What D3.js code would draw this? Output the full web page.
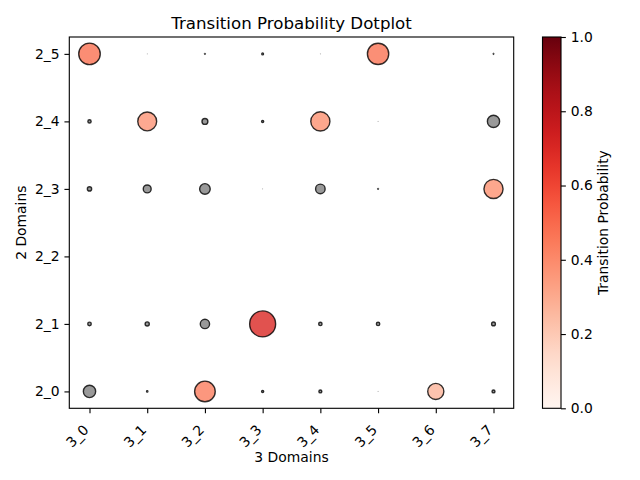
<!DOCTYPE html>
<html>
<head>
<meta charset="utf-8">
<script src="https://cdn.jsdelivr.net/npm/d3@7"></script>
<style>
  body { margin: 0; background: #fff; }
  text { font-family: "DejaVu Sans", sans-serif; fill: #000; }
</style>
</head>
<body>
<div id="chart"></div>
<script>
// categories
var xCats = ["3_0", "3_1", "3_2", "3_3", "3_4", "3_5", "3_6", "3_7"];
var yCats = ["2_0", "2_1", "2_2", "2_3", "2_4", "2_5"];

// transition probabilities, one array per row (2_x), columns are 3_0..3_7
var row2_0 = [0.157, 0.003, 0.44, 0.005, 0.009, 0.0005, 0.27, 0.009];
var row2_1 = [0.013, 0.018, 0.09, 0.70, 0.012, 0.012, null, 0.015];
var row2_2 = [null, null, null, null, null, null, null, null];
var row2_3 = [0.019, 0.065, 0.117, 0.0005, 0.095, 0.002, null, 0.38];
var row2_4 = [0.011, 0.37, 0.036, 0.005, 0.38, 0.0005, null, 0.155];
var row2_5 = [0.48, 0.0005, 0.002, 0.004, 0.0005, 0.47, null, 0.002];
var rows = [row2_0, row2_1, row2_2, row2_3, row2_4, row2_5];

var cbarTicks = [0, 0.2, 0.4, 0.6, 0.8, 1.0];
var threshold = 0.2;   // below this the dot is drawn grey

var W = 640, H = 480;
var pt = 100 / 72;
var m = {left: 69.3, right: 513.7, top: 37, bottom: 408.3};

var svg = d3.select("#chart")
	.append("svg")
	.attr("width", W)
	.attr("height", H);

var x = d3.scaleLinear().domain([-0.35, 7.35]).range([m.left, m.right]);
var y = d3.scaleLinear().domain([-0.25, 5.25]).range([m.bottom, m.top]);
var color = d3.scaleSequential(d3.interpolateReds).domain([0, 1]);
function radius(p) { return Math.sqrt(500 * p) / 2 * pt; }

var points = [];
rows.forEach(function(r, j) {
	r.forEach(function(v, i) {
		if (v !== null) points.push({xi: i, yi: j, p: v});
	});
});

// dots
svg.append("g")
	.selectAll("circle")
	.data(points)
	.join("circle")
	.attr("cx", function(d) { return x(d.xi); })
	.attr("cy", function(d) { return y(d.yi); })
	.attr("r", function(d) { return radius(d.p); })
	.attr("fill", function(d) { return d.p >= threshold ? color(d.p) : "gray"; })
	.attr("fill-opacity", 0.8)
	.attr("stroke", "#000")
	.attr("stroke-opacity", function(d) { return d.p < 0.001 ? 0.25 : 0.8; })
	.attr("stroke-width", function(d) { return Math.min(pt, radius(d.p) * 1.2); });

// frame
svg.append("rect")
	.attr("x", m.left).attr("y", m.top)
	.attr("width", m.right - m.left).attr("height", m.bottom - m.top)
	.attr("fill", "none").attr("stroke", "#000").attr("stroke-width", 0.8 * pt);

// x axis
var xAxis = d3.axisBottom(x)
	.tickValues(d3.range(xCats.length))
	.tickFormat(function(i) { return xCats[i]; })
	.tickSize(3.5 * pt).tickSizeOuter(0);
var gx = svg.append("g")
	.attr("transform", "translate(0," + m.bottom + ")")
	.call(xAxis);
gx.select(".domain").remove();
gx.selectAll(".tick line").attr("stroke", "#000").attr("stroke-width", 0.8 * pt);
gx.selectAll(".tick text")
	.attr("font-size", 10 * pt)
	.attr("text-anchor", "end")
	.attr("y", 0).attr("dy", "0.35em")
	.attr("transform", "translate(-4,19) rotate(-45)");

// y axis
var yAxis = d3.axisLeft(y)
	.tickValues(d3.range(yCats.length))
	.tickFormat(function(i) { return yCats[i]; })
	.tickSize(3.5 * pt).tickPadding(3.5 * pt).tickSizeOuter(0);
var gy = svg.append("g")
	.attr("transform", "translate(" + m.left + ",0)")
	.call(yAxis);
gy.select(".domain").remove();
gy.selectAll(".tick line").attr("stroke", "#000").attr("stroke-width", 0.8 * pt);
gy.selectAll(".tick text").attr("font-size", 10 * pt);

// titles
svg.append("text")
	.attr("x", (m.left + m.right) / 2).attr("y", 29)
	.attr("text-anchor", "middle").attr("font-size", 12 * pt)
	.text("Transition Probability Dotplot");
svg.append("text")
	.attr("x", (m.left + m.right) / 2).attr("y", 462)
	.attr("text-anchor", "middle").attr("font-size", 10 * pt)
	.text("3 Domains");
svg.append("text")
	.attr("transform", "translate(26," + (m.top + m.bottom) / 2 + ") rotate(-90)")
	.attr("text-anchor", "middle").attr("font-size", 10 * pt)
	.text("2 Domains");

// colorbar
var cb = {left: 542.5, right: 561};
var defs = svg.append("defs");
var grad = defs.append("linearGradient")
	.attr("id", "reds").attr("x1", 0).attr("y1", 1).attr("x2", 0).attr("y2", 0);
grad.selectAll("stop")
	.data(d3.range(0, 1.0001, 0.05))
	.join("stop")
	.attr("offset", function(d) { return d; })
	.attr("stop-color", function(d) { return color(d); });
svg.append("rect")
	.attr("x", cb.left).attr("y", m.top)
	.attr("width", cb.right - cb.left).attr("height", m.bottom - m.top)
	.attr("fill", "url(#reds)")
	.attr("stroke", "#000").attr("stroke-width", 0.8 * pt);

var cy = d3.scaleLinear().domain([0, 1]).range([m.bottom, m.top]);
var cAxis = d3.axisRight(cy)
	.tickValues(cbarTicks)
	.tickFormat(d3.format(".1f"))
	.tickSize(3.5 * pt).tickPadding(3.5 * pt).tickSizeOuter(0);
var gc = svg.append("g")
	.attr("transform", "translate(" + cb.right + ",0)")
	.call(cAxis);
gc.select(".domain").remove();
gc.selectAll(".tick line").attr("stroke", "#000").attr("stroke-width", 0.8 * pt);
gc.selectAll(".tick text").attr("font-size", 10 * pt);

svg.append("text")
	.attr("transform", "translate(608," + (m.top + m.bottom) / 2 + ") rotate(-90)")
	.attr("text-anchor", "middle").attr("font-size", 10 * pt)
	.text("Transition Probability");
</script>
</body>
</html>
